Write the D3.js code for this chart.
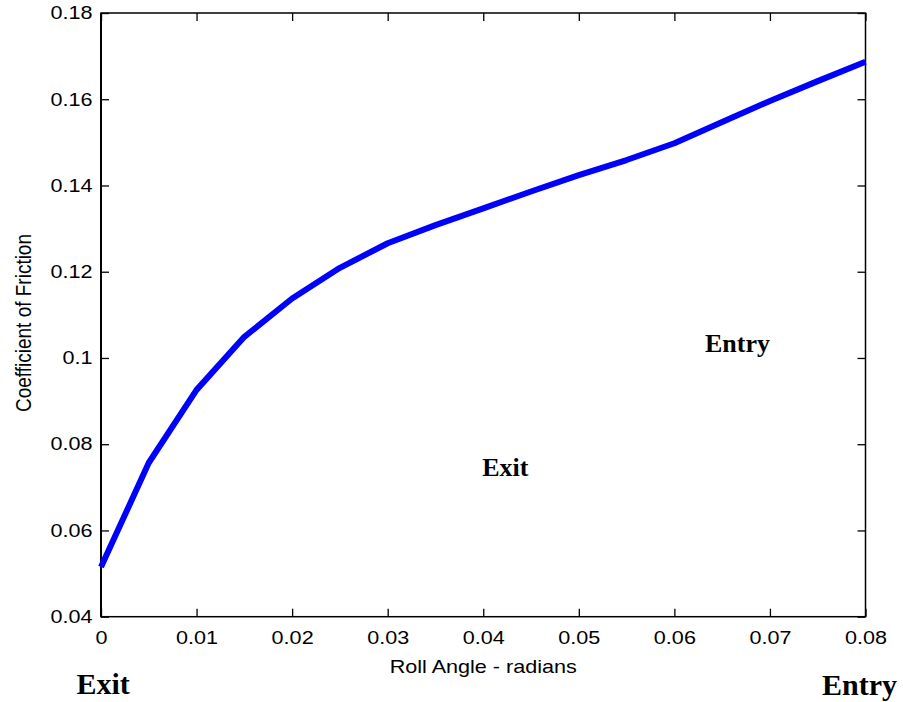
<html>
<head>
  <meta charset="utf-8">
  <title>Coefficient of Friction vs Roll Angle</title>
  <script src="https://cdn.jsdelivr.net/npm/d3@7"></script>
  <style>
    body { margin: 0; background: #fff; }
    text { font-family: "Liberation Sans", Arial, sans-serif; }
    .serif { font-family: "Liberation Serif", "Times New Roman", serif; font-weight: bold; }
  </style>
</head>
<body>
  <script>
    // roll angle (radians) and friction coefficient
    const rollAngle = [0, 0.005, 0.01, 0.015, 0.02, 0.025, 0.03, 0.035, 0.04,
      0.045, 0.05, 0.055, 0.06, 0.065, 0.07, 0.075, 0.08];
    const friction = [0.0515, 0.0757, 0.0926, 0.1049, 0.1138, 0.1209, 0.1266, 0.1308, 0.1347,
      0.1386, 0.1424, 0.1459, 0.1498, 0.1547, 0.1596, 0.1642, 0.1687];

    const xTicks = [0, 0.01, 0.02, 0.03, 0.04, 0.05, 0.06, 0.07, 0.08];
    const xTickLabels = ["0", "0.01", "0.02", "0.03", "0.04", "0.05", "0.06", "0.07", "0.08"];
    const yTicks = [0.04, 0.06, 0.08, 0.1, 0.12, 0.14, 0.16, 0.18];
    const yTickLabels = ["0.04", "0.06", "0.08", "0.1", "0.12", "0.14", "0.16", "0.18"];

    // text annotations: [label, x (data), y (data)]
    const insideNotes = [["Entry", 0.0632, 0.1013], ["Exit", 0.0399, 0.0726]];

    const width = 903;
    const height = 702;
    const margin = { top: 13, right: 37.5, bottom: 85.3, left: 101 };
    const iw = width - margin.left - margin.right;
    const ih = height - margin.top - margin.bottom;
    const stretch = 1.2;

    const svg = d3.select("body").append("svg")
      .attr("width", width).attr("height", height);
    const g = svg.append("g").attr("transform", `translate(${margin.left},${margin.top})`);

    const x = d3.scaleLinear().domain([0, 0.08]).range([0, iw]);
    const y = d3.scaleLinear().domain([0.04, 0.18]).range([ih, 0]);

    const fmtX = d => xTickLabels[xTicks.indexOf(d)];
    const fmtY = d => yTickLabels[yTicks.indexOf(d)];

    // bottom axis with inward ticks
    const gx = g.append("g").attr("transform", `translate(0,${ih})`)
      .call(d3.axisBottom(x).tickValues(xTicks).tickFormat(fmtX).tickSizeInner(-8).tickSizeOuter(0).tickPadding(14.5));
    gx.selectAll("text").attr("font-size", 18).attr("fill", "#000")
      .attr("transform", `scale(${stretch},1)`);

    // top axis
    g.append("g")
      .call(d3.axisTop(x).tickValues(xTicks).tickFormat("").tickSizeInner(-8).tickSizeOuter(0));

    // left axis
    const gy = g.append("g")
      .call(d3.axisLeft(y).tickValues(yTicks).tickFormat(fmtY).tickSizeInner(-8).tickSizeOuter(0));
    gy.selectAll("text").attr("font-size", 18).attr("fill", "#000")
      .attr("x", 0).attr("transform", `translate(-8.5,0) scale(${stretch},1)`);

    // right axis
    g.append("g").attr("transform", `translate(${iw},0)`)
      .call(d3.axisRight(y).tickValues(yTicks).tickFormat("").tickSizeInner(-8).tickSizeOuter(0));

    g.selectAll(".domain").remove();
    g.selectAll(".tick line").attr("stroke", "#000").attr("stroke-width", 1.3);

    // box
    g.append("rect").attr("width", iw).attr("height", ih)
      .attr("fill", "none").attr("stroke", "#000").attr("stroke-width", 1.5);
    g.append("line").attr("x1", 0).attr("x2", 0).attr("y1", 0).attr("y2", ih)
      .attr("stroke", "#000").attr("stroke-width", 2);

    // curve
    const line = d3.line().x((d, i) => x(rollAngle[i])).y(d => y(d));
    g.append("path").datum(friction)
      .attr("d", line)
      .attr("fill", "none")
      .attr("stroke", "#0000ff")
      .attr("stroke-width", 6)
      .attr("stroke-linejoin", "round");

    // axis titles
    svg.append("text")
      .attr("transform", `translate(${margin.left + iw / 2},673) scale(${stretch},1)`)
      .attr("text-anchor", "middle").attr("font-size", 18)
      .text("Roll Angle - radians");
    svg.append("text")
      .attr("transform", `translate(31,323) scale(${stretch},1) rotate(-90)`)
      .attr("text-anchor", "middle").attr("font-size", 19)
      .text("Coefficient of Friction");

    // annotations inside the plot
    g.selectAll(".note").data(insideNotes).enter().append("text")
      .attr("class", "serif")
      .attr("x", d => x(d[1])).attr("y", d => y(d[2]))
      .attr("font-size", 26)
      .text(d => d[0]);

    // labels under the axis ends
    svg.append("text").attr("class", "serif")
      .attr("x", 76.5).attr("y", 693.5).attr("font-size", 30).text("Exit");
    svg.append("text").attr("class", "serif")
      .attr("x", 897).attr("y", 695).attr("text-anchor", "end").attr("font-size", 30).text("Entry");
  </script>
</body>
</html>
